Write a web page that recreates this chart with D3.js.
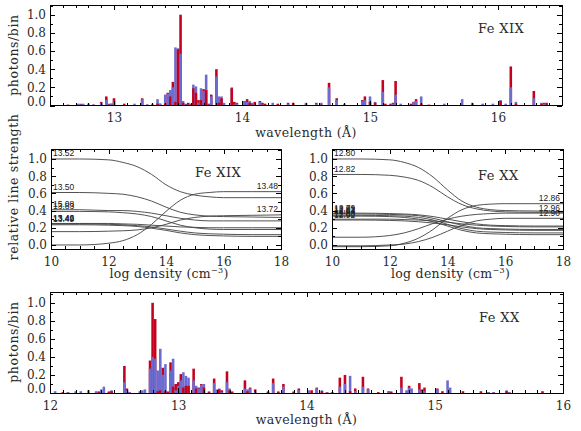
<!DOCTYPE html>
<html>
<head>
<meta charset="utf-8">
<script src="https://cdn.jsdelivr.net/npm/d3@7"></script>
<style>
  body { margin: 0; background: #fff; }
  svg text { font-family: "DejaVu Serif", serif; fill: #2a2a2a; }
  .clabel { font-family: "Liberation Sans", Arial, sans-serif; font-size: 8.5px; fill: #222; }
</style>
</head>
<body>
<svg id="chart" width="581" height="431"></svg>
<script>
// ---- Fe XIX spectrum (top panel): bin centre (Angstrom), low-density (red) and high-density (blue) counts
const fe19Wave = [12.64,12.72,12.74,12.76,12.80,12.84,12.90,12.94,12.96,12.98,13.00,13.08,13.16,13.22,13.26,13.30,13.34,13.36,
  13.40,13.42,13.44,13.46,13.48,13.50,13.52,13.54,13.56,13.58,13.60,13.62,13.64,13.66,13.68,13.70,13.72,13.74,13.76,13.80,
  13.82,13.84,13.86,13.92,13.94,13.96,14.02,14.04,14.06,14.08,14.10,14.14,14.16,14.18,14.24,14.28,14.36,14.40,14.50,14.58,
  14.62,14.68,14.74,14.80,14.94,14.96,15.00,15.04,15.10,15.12,15.16,15.18,15.20,15.24,15.32,15.34,15.36,15.40,15.46,15.58,
  15.72,15.80,15.88,15.96,16.02,16.06,16.10,16.14,16.28,16.34,16.36,16.38];
const fe19Red = [0.01,0.00,0.01,0.00,0.00,0.01,0.04,0.10,0.01,0.02,0.08,0.02,0.00,0.08,0.01,0.00,0.02,0.02,
  0.02,0.14,0.10,0.26,0.04,0.62,1.00,0.03,0.01,0.03,0.01,0.19,0.14,0.06,0.06,0.18,0.17,0.02,0.12,0.40,
  0.03,0.08,0.00,0.19,0.04,0.03,0.05,0.07,0.03,0.01,0.04,0.05,0.03,0.02,0.00,0.02,0.03,0.03,0.01,0.03,
  0.01,0.25,0.08,0.00,0.06,0.10,0.04,0.03,0.28,0.02,0.02,0.03,0.27,0.00,0.02,0.04,0.07,0.02,0.01,0.00,
  0.00,0.01,0.00,0.00,0.05,0.00,0.43,0.02,0.16,0.02,0.03,0.03];
const fe19Blue = [0.00,0.02,0.02,0.02,0.02,0.01,0.03,0.06,0.02,0.02,0.05,0.00,0.02,0.07,0.01,0.02,0.07,0.02,
  0.12,0.13,0.17,0.20,0.64,0.63,0.57,0.05,0.02,0.01,0.02,0.23,0.21,0.03,0.19,0.16,0.34,0.01,0.10,0.32,
  0.10,0.10,0.03,0.20,0.01,0.02,0.05,0.04,0.05,0.03,0.01,0.04,0.01,0.00,0.03,0.00,0.02,0.00,0.03,0.02,
  0.03,0.20,0.06,0.02,0.05,0.06,0.10,0.04,0.15,0.00,0.01,0.02,0.12,0.02,0.00,0.04,0.05,0.10,0.00,0.02,
  0.07,0.03,0.02,0.02,0.06,0.02,0.20,0.04,0.08,0.03,0.02,0.00];

// ---- Fe XX spectrum (bottom panel)
const fe20Wave = [12.04,12.10,12.14,12.20,12.24,12.30,12.36,12.38,12.40,12.42,12.46,12.48,12.58,12.60,12.62,12.70,12.72,12.74,
  12.78,12.80,12.82,12.84,12.86,12.88,12.90,12.92,12.94,12.96,12.98,13.00,13.02,13.04,13.06,13.08,13.12,13.14,13.16,13.18,
  13.20,13.24,13.28,13.30,13.32,13.34,13.38,13.40,13.42,13.52,13.54,13.56,13.60,13.70,13.74,13.78,13.82,13.90,13.94,14.02,
  14.04,14.08,14.12,14.16,14.20,14.26,14.30,14.34,14.38,14.44,14.48,14.56,14.64,14.66,14.74,14.78,14.80,14.82,14.88,14.90,
  14.92,15.02,15.06,15.10,15.12,15.22,15.36,15.42,15.46,15.56,15.58,15.84];
const fe20Red = [0.00,0.01,0.01,0.00,0.00,0.00,0.00,0.01,0.00,0.00,0.01,0.02,0.30,0.05,0.01,0.00,0.00,0.00,
  0.36,1.00,0.82,0.02,0.03,0.28,0.02,0.01,0.34,0.07,0.10,0.12,0.21,0.06,0.08,0.08,0.27,0.05,0.06,0.10,
  0.06,0.01,0.16,0.00,0.04,0.03,0.24,0.03,0.01,0.14,0.02,0.06,0.04,0.01,0.16,0.01,0.10,0.01,0.05,0.00,
  0.03,0.06,0.02,0.01,0.01,0.17,0.20,0.02,0.05,0.18,0.05,0.01,0.02,0.01,0.18,0.00,0.08,0.00,0.11,0.04,
  0.06,0.05,0.02,0.00,0.00,0.02,0.02,0.01,0.01,0.02,0.01,0.02];
const fe20Blue = [0.02,0.00,0.01,0.02,0.02,0.03,0.02,0.02,0.04,0.07,0.02,0.03,0.12,0.03,0.01,0.02,0.03,0.04,
  0.27,0.40,0.38,0.25,0.49,0.20,0.32,0.02,0.25,0.38,0.03,0.08,0.14,0.23,0.19,0.17,0.14,0.08,0.05,0.09,
  0.10,0.02,0.11,0.04,0.05,0.01,0.12,0.05,0.02,0.05,0.04,0.05,0.01,0.02,0.11,0.02,0.07,0.02,0.03,0.03,
  0.00,0.05,0.03,0.01,0.01,0.07,0.10,0.19,0.02,0.07,0.04,0.00,0.01,0.02,0.06,0.03,0.06,0.05,0.04,0.02,
  0.02,0.04,0.00,0.14,0.06,0.00,0.00,0.01,0.01,0.03,0.01,0.00];

// ---- density dependence of line strengths (middle panels), sampled on a log-density grid
const densGrid = [10, 11, 12, 12.5, 13, 13.5, 14, 14.5, 15, 15.5, 16, 17, 18];

const fe19Names = ["13.52", "13.50", "13.48", "13.72", "15.08", "13.83", "13.42", "13.46", "13.49"];
const fe19Curves = [
  [1.00, 1.00, 0.99, 0.96, 0.91, 0.82, 0.70, 0.62, 0.58, 0.56, 0.55, 0.55, 0.55],
  [0.61, 0.61, 0.60, 0.59, 0.56, 0.51, 0.44, 0.38, 0.35, 0.335, 0.33, 0.325, 0.32],
  [0.00, 0.00, 0.02, 0.05, 0.12, 0.24, 0.39, 0.52, 0.59, 0.61, 0.62, 0.62, 0.62],
  [0.155, 0.155, 0.16, 0.165, 0.175, 0.20, 0.24, 0.29, 0.32, 0.335, 0.34, 0.345, 0.35],
  [0.41, 0.41, 0.40, 0.40, 0.39, 0.37, 0.34, 0.31, 0.29, 0.28, 0.28, 0.28, 0.28],
  [0.39, 0.39, 0.385, 0.375, 0.36, 0.33, 0.28, 0.23, 0.20, 0.185, 0.18, 0.18, 0.18],
  [0.25, 0.25, 0.25, 0.245, 0.24, 0.23, 0.22, 0.21, 0.205, 0.20, 0.20, 0.20, 0.20],
  [0.245, 0.245, 0.24, 0.235, 0.225, 0.21, 0.185, 0.16, 0.14, 0.13, 0.125, 0.12, 0.12],
  [0.235, 0.235, 0.23, 0.225, 0.215, 0.195, 0.17, 0.14, 0.12, 0.11, 0.105, 0.10, 0.10]
];

const fe20Names = ["12.80", "12.82", "12.86", "12.96", "12.90", "12.79", "12.81", "12.83", "12.84", "12.88", "12.92"];
const fe20Curves = [
  [1.00, 1.00, 0.99, 0.96, 0.90, 0.79, 0.64, 0.51, 0.44, 0.41, 0.40, 0.395, 0.39],
  [0.82, 0.82, 0.81, 0.79, 0.75, 0.67, 0.56, 0.47, 0.42, 0.395, 0.385, 0.38, 0.38],
  [-0.02, -0.02, -0.01, 0.02, 0.08, 0.18, 0.31, 0.41, 0.46, 0.475, 0.48, 0.48, 0.48],
  [0.09, 0.09, 0.11, 0.14, 0.19, 0.25, 0.30, 0.335, 0.355, 0.365, 0.37, 0.37, 0.37],
  [-0.01, -0.01, 0.00, 0.01, 0.04, 0.09, 0.16, 0.23, 0.28, 0.30, 0.31, 0.31, 0.31],
  [0.37, 0.37, 0.365, 0.36, 0.35, 0.33, 0.30, 0.27, 0.245, 0.23, 0.225, 0.22, 0.22],
  [0.36, 0.36, 0.355, 0.35, 0.34, 0.31, 0.27, 0.23, 0.20, 0.19, 0.185, 0.18, 0.18],
  [0.345, 0.345, 0.34, 0.335, 0.32, 0.29, 0.24, 0.19, 0.16, 0.15, 0.145, 0.14, 0.14],
  [0.335, 0.335, 0.33, 0.32, 0.30, 0.27, 0.22, 0.17, 0.14, 0.13, 0.125, 0.12, 0.12],
  [0.30, 0.30, 0.30, 0.295, 0.29, 0.28, 0.265, 0.245, 0.23, 0.22, 0.215, 0.21, 0.21],
  [0.29, 0.29, 0.285, 0.28, 0.27, 0.255, 0.235, 0.21, 0.19, 0.18, 0.175, 0.17, 0.17]
];

// tick labels
const yTickValues = [0.0, 0.2, 0.4, 0.6, 0.8, 1.0];
const fe19WaveTicks = [13, 14, 15, 16];
const fe20WaveTicks = [12, 13, 14, 15, 16];
const densTicks = [10, 12, 14, 16, 18];

const RED = "#c5021d";
const BLUE = "#6c6cd0";
const svg = d3.select("#chart");

// draws inward ticks on all four sides plus the frame, labels on bottom and left only
function drawFrame(g, x, y, w, h, xMajor, xMinor, yMajor, yMinor, xFmt, zeroLift) {
    const layer = (axis, tx, ty) => {
        const a = g.append("g").attr("transform", `translate(${tx},${ty})`).call(axis);
        a.select(".domain").remove();
        a.attr("font-family", "DejaVu Serif, serif").attr("font-size", 12);
        a.selectAll("line").attr("shape-rendering", "crispEdges");
        a.selectAll("text").attr("fill", "#2a2a2a");
        return a;
    };
    layer(d3.axisBottom(x).tickValues(xMinor).tickSize(-3).tickFormat(""), 0, h);
    layer(d3.axisTop(x).tickValues(xMinor).tickSize(-3).tickFormat(""), 0, 0);
    layer(d3.axisTop(x).tickValues(xMajor).tickSize(-5).tickFormat(""), 0, 0);
    layer(d3.axisLeft(y).tickValues(yMinor).tickSize(-3).tickFormat(""), 0, 0);
    layer(d3.axisRight(y).tickValues(yMinor).tickSize(-3).tickFormat(""), w, 0);
    layer(d3.axisRight(y).tickValues(yMajor).tickSize(-5).tickFormat(""), w, 0);
    layer(d3.axisBottom(x).tickValues(xMajor).tickSize(-5).tickPadding(8).tickFormat(xFmt), 0, h);
    const yl = layer(d3.axisLeft(y).tickValues(yMajor).tickSize(-5).tickPadding(4).tickFormat(d3.format(".1f")), 0, 0);
    if (zeroLift) {
        // the 0.0 label sits on the frame bottom, lift it so it stays inside
        yl.selectAll(".tick text").filter(d => d === 0).attr("y", -zeroLift);
    }
    g.append("rect").attr("width", w).attr("height", h)
        .attr("fill", "none").attr("stroke", "#000").attr("stroke-width", 1)
        .attr("shape-rendering", "crispEdges");
}

function yTitle(text, cx, cy) {
    svg.append("text")
        .attr("transform", `translate(${cx},${cy}) rotate(-90)`)
        .attr("text-anchor", "middle")
        .attr("font-size", 12.5).attr("letter-spacing", 0.6)
        .text(text);
}

function spectrumPanel(p, waves, reds, blues, xDomain, xTicks, label) {
    const w = p.right - p.left, h = p.bottom - p.top;
    const g = svg.append("g").attr("transform", `translate(${p.left},${p.top})`);
    const x = d3.scaleLinear().domain(xDomain).range([0, w]);
    const y = d3.scaleLinear().domain([0, p.yMax]).range([h, 0]);

    // each bin: the taller series first, the shorter one painted over it
    const bars = [];
    waves.forEach((wl, i) => {
        const pair = [{ wl, v: reds[i], c: RED }, { wl, v: blues[i], c: BLUE }]
            .filter(d => d.v > 0)
            .sort((a, b) => b.v - a.v);
        bars.push(...pair);
    });
    g.append("g").selectAll("rect").data(bars).join("rect")
        .attr("x", d => x(d.wl - 0.01))
        .attr("width", d => x(d.wl + 0.01) - x(d.wl - 0.01))
        .attr("y", d => y(d.v))
        .attr("height", d => h - y(d.v))
        .attr("fill", d => d.c);

    const minor = d3.range(Math.round(xDomain[0] * 10), Math.round(xDomain[1] * 10) + 1).map(v => v / 10);
    const yMinor = d3.range(0, 12).map(v => v / 10);
    drawFrame(g, x, y, w, h, xTicks, minor, yTickValues, yMinor, d3.format("d"), 4);

    g.append("text").attr("x", p.labelX).attr("y", p.labelY)
        .attr("font-size", 13).attr("letter-spacing", 0.4).text(label);
    svg.append("text").attr("x", (p.left + p.right) / 2).attr("y", p.bottom + 31)
        .attr("text-anchor", "middle").attr("font-size", 12.5).attr("letter-spacing", 0.4)
        .text("wavelength (\u00c5)");
}

function densityPanel(p, names, curves, label) {
    const w = p.right - p.left, h = p.bottom - p.top;
    const g = svg.append("g").attr("transform", `translate(${p.left},${p.top})`);
    const x = d3.scaleLinear().domain([10, 18]).range([0, w]);
    const y = d3.scaleLinear().domain([-0.047, 1.116]).range([h, 0]);

    const line = d3.line()
        .x((d, i) => x(densGrid[i]))
        .y(d => y(d))
        .curve(d3.curveMonotoneX);

    g.append("g").selectAll("path").data(curves).join("path")
        .attr("d", line)
        .attr("fill", "none")
        .attr("stroke", "#404040")
        .attr("stroke-width", 0.9);

    // falling lines are named at the left edge, rising ones at the right edge
    g.append("g").selectAll("text").data(curves).join("text")
        .attr("class", "clabel")
        .attr("x", d => d[d.length - 1] > d[0] ? w - 3 : 2)
        .attr("y", d => (d[d.length - 1] > d[0] ? y(d[d.length - 1]) : y(d[0])) - 2.5)
        .attr("text-anchor", d => d[d.length - 1] > d[0] ? "end" : "start")
        .text((d, i) => names[i]);

    const minor = d3.range(20, 37).map(v => v / 2);
    const yMinor = d3.range(0, 12).map(v => v / 10);
    drawFrame(g, x, y, w, h, densTicks, minor, yTickValues, yMinor, d3.format("d"), 0);

    g.append("text").attr("x", p.labelX).attr("y", p.labelY)
        .attr("font-size", 13).attr("letter-spacing", 0.4).text(label);

    const t = svg.append("text").attr("x", (p.left + p.right) / 2 + 3).attr("y", p.bottom + 29)
        .attr("text-anchor", "middle").attr("font-size", 12.5).attr("letter-spacing", 0.3);
    t.append("tspan").text("log density (cm");
    t.append("tspan").attr("font-size", 8).attr("dy", -5).text("\u22123");
    t.append("tspan").attr("dy", 5).text(")");
}

// panel boxes (pixels)
const topPanel = { left: 50, right: 562, top: 5, bottom: 105.5, yMax: 1.107, labelX: 428, labelY: 28 };
const bottomPanel = { left: 50, right: 563, top: 292, bottom: 393, yMax: 1.12, labelX: 429, labelY: 30 };
const midLeft = { left: 51, right: 281, top: 149, bottom: 249, labelX: 144, labelY: 28 };
const midRight = { left: 332, right: 563, top: 149, bottom: 249, labelX: 146, labelY: 31 };

spectrumPanel(topPanel, fe19Wave, fe19Red, fe19Blue, [12.5, 16.5], fe19WaveTicks, "Fe XIX");
densityPanel(midLeft, fe19Names, fe19Curves, "Fe XIX");
densityPanel(midRight, fe20Names, fe20Curves, "Fe XX");
spectrumPanel(bottomPanel, fe20Wave, fe20Red, fe20Blue, [12, 16], fe20WaveTicks, "Fe XX");

yTitle("photons/bin", 18, 55);
yTitle("relative line strength", 18, 187);
yTitle("photons/bin", 18, 342);
</script>
</body>
</html>
